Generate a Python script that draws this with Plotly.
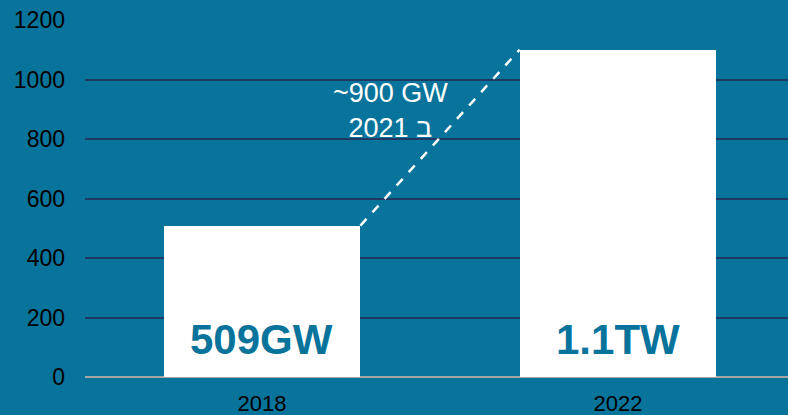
import plotly.graph_objects as go

categories = ["2018", "2022"]
values = [509, 1100]
bar_labels = ["509GW", "1.1TW"]
y_ticks = [0, 200, 400, 600, 800, 1000, 1200]
note_lines = ["~900 GW", "ב 2021"]

BG = "#08739b"
FONT = "Liberation Sans, Arial, sans-serif"
bar_w = 0.553
xs = list(range(len(categories)))

fig = go.Figure()
fig.add_trace(go.Bar(
    x=xs, y=values, width=bar_w,
    marker=dict(color="white", line=dict(width=0)),
    hoverinfo="skip",
))
# dashed connector from top-right of first bar to top-left of second bar
fig.add_trace(go.Scatter(
    x=[xs[0] + bar_w / 2, xs[1] - bar_w / 2], y=[values[0], values[1]],
    mode="lines", line=dict(color="white", width=2.5, dash="dash"),
    hoverinfo="skip",
))
for xi, lab in zip(xs, bar_labels):
    fig.add_annotation(
        x=xi, y=0, xref="x", yref="y", text=f"<b>{lab}</b>",
        showarrow=False, yanchor="bottom", yshift=12,
        font=dict(family=FONT, size=42, color=BG),
    )
fig.add_annotation(
    x=0.36, y=897, xref="x", yref="y",
    text="<br>".join(note_lines), showarrow=False,
    font=dict(family=FONT, size=27, color="white"),
    align="center",
)

fig.update_layout(
    width=788, height=415,
    paper_bgcolor=BG, plot_bgcolor=BG,
    margin=dict(l=85, r=0, t=20, b=38, autoexpand=False),
    showlegend=False, bargap=0,
    font=dict(family=FONT, size=23, color="black"),
    xaxis=dict(
        range=[-0.497, 1.4775], tickvals=xs, ticktext=categories,
        showgrid=False, zeroline=False, showline=False, ticks="",
        tickfont=dict(size=22, color="black"), ticklabelstandoff=11,
        automargin=False,
    ),
    yaxis=dict(
        range=[0, 1200], tickvals=y_ticks, ticktext=[str(v) for v in y_ticks],
        showgrid=True, gridcolor="#1f3864", gridwidth=1.5,
        zeroline=True, zerolinecolor="#a6a6a6", zerolinewidth=2,
        showline=False, ticks="", ticklabelstandoff=19,
        tickfont=dict(size=23, color="black"), automargin=False,
    ),
)

fig.write_html("out.html", config={"displayModeBar": False},
               post_script="document.body.style.margin='0';")
